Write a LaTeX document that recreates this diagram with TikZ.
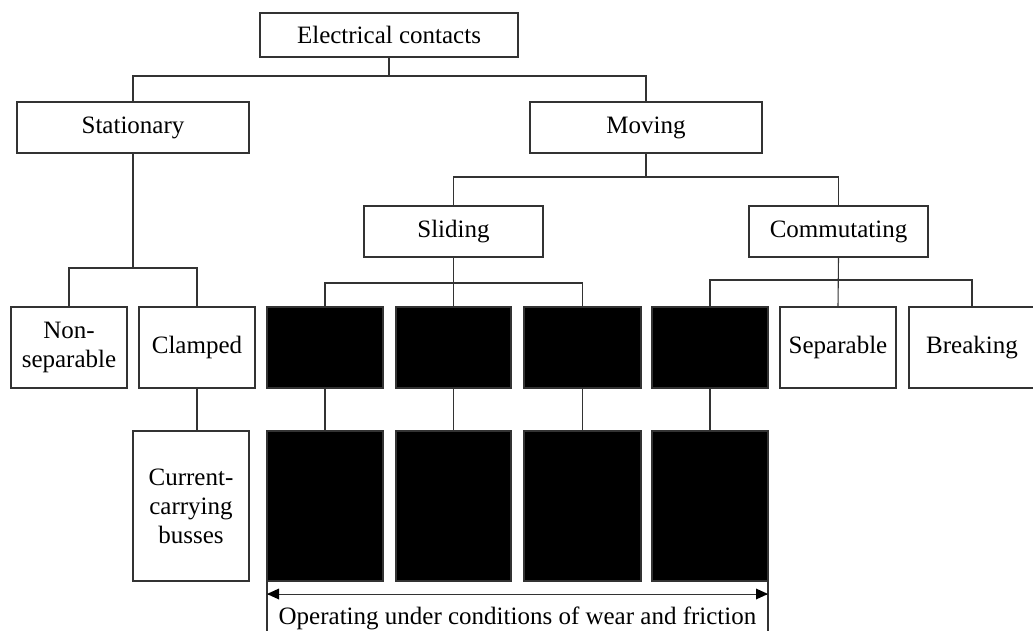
\documentclass[tikz,border=0pt]{standalone}
\usepackage{fontspec}
\setmainfont{Liberation Serif}
\begin{document}
\begin{tikzpicture}[x=1pt,y=-1pt,
  font=\fontsize{25}{29}\selectfont,
  box/.style={draw=black!80, line width=1.1pt, fill=white, inner sep=0pt, outer sep=0pt, align=center},
  hidden/.style={box, fill=black},
  link/.style={draw=black!80, line width=1.1pt},
  spanline/.style={draw=black!80, line width=1pt},
  headfill/.style={fill=black}]
\useasboundingbox (0,0) rectangle (1033,631);

% level 0 and 1
\node[box, minimum width=258pt, minimum height=44pt] (ec)   at (389,35)    {Electrical contacts};
\node[box, minimum width=232pt, minimum height=51pt] (stat) at (133,127.5) {Stationary};
\node[box, minimum width=232pt, minimum height=51pt] (mov)  at (646,127.5) {Moving};

% level 2
\node[box, minimum width=179pt, minimum height=51pt] (sld) at (453.5,231.5) {Sliding};
\node[box, minimum width=179pt, minimum height=51pt] (com) at (838.5,231.5) {Commutating};

% level 3
\node[box, minimum width=116pt, minimum height=81pt] (nons) at (69,347.5)  {Non-\\separable};
\node[box, minimum width=116pt, minimum height=81pt] (clmp) at (197,347.5) {Clamped};
\node[hidden, minimum width=116pt, minimum height=81pt] (b1) at (325,347.5)   {};
\node[hidden, minimum width=115pt, minimum height=81pt] (b2) at (453.5,347.5) {};
\node[hidden, minimum width=117pt, minimum height=81pt] (b3) at (582.5,347.5) {};
\node[hidden, minimum width=116pt, minimum height=81pt] (b4) at (710,347.5)   {};
\node[box, minimum width=116pt, minimum height=81pt] (sep) at (838,347.5) {Separable};
\node[box, minimum width=126pt, minimum height=81pt] (brk) at (972,347.5) {Breaking};

% level 4
\node[box, minimum width=116pt, minimum height=150pt] (ccb) at (191,506) {Current-\\carrying\\busses};
\node[hidden, minimum width=116pt, minimum height=150pt] (b5) at (325,506)   {};
\node[hidden, minimum width=115pt, minimum height=150pt] (b6) at (453.5,506) {};
\node[hidden, minimum width=117pt, minimum height=150pt] (b7) at (582.5,506) {};
\node[hidden, minimum width=116pt, minimum height=150pt] (b8) at (710,506)   {};

% tree connectors
\draw[link] (stat.north) |- (ec.south |- 0,76) -- (ec.south);
\draw[link] (mov.north) |- (ec.south |- 0,76);

\draw[link] (nons.north) |- (stat.south |- 0,268) -- (stat.south);
\draw[link] (clmp.north) |- (stat.south |- 0,268);
\draw[link] (clmp.south) -- (clmp.south |- ccb.north);

\draw[link] (sld.north) |- (mov.south |- 0,177) -- (mov.south);
\draw[link] (com.north) |- (mov.south |- 0,177);

\draw[link] (b1.north) |- (sld.south |- 0,283);
\draw[link] (b3.north) |- (sld.south |- 0,283);
\draw[link] (sld.south) -- (b2.north);

\draw[link] (b4.north) |- (com.south |- 0,280);
\draw[link] (brk.north) |- (com.south |- 0,280);
\draw[link] (com.south) -- (sep.north);

\draw[link] (b1.south) -- (b5.north);
\draw[link] (b2.south) -- (b6.north);
\draw[link] (b3.south) -- (b7.north);
\draw[link] (b4.south) -- (b8.north);

% span marker under the sliding group: double-headed arrow between two end bars
\coordinate (sl) at (b5.south west |- 0,594);
\coordinate (sr) at (b8.south east |- 0,594);
\draw[link] (b5.south west) -- ++(0,55);
\draw[link] (b8.south east) -- ++(0,55);
\draw[spanline] (sl) -- (sr);
\fill[headfill] (sl) -- ++(12,-5.5) -- ++(0,11) -- cycle;
\fill[headfill] (sr) -- ++(-12,-5.5) -- ++(0,11) -- cycle;
\node[anchor=base, inner sep=0pt] (span) at (517.5,624) {Operating under conditions of wear and friction};
\end{tikzpicture}
\end{document}
